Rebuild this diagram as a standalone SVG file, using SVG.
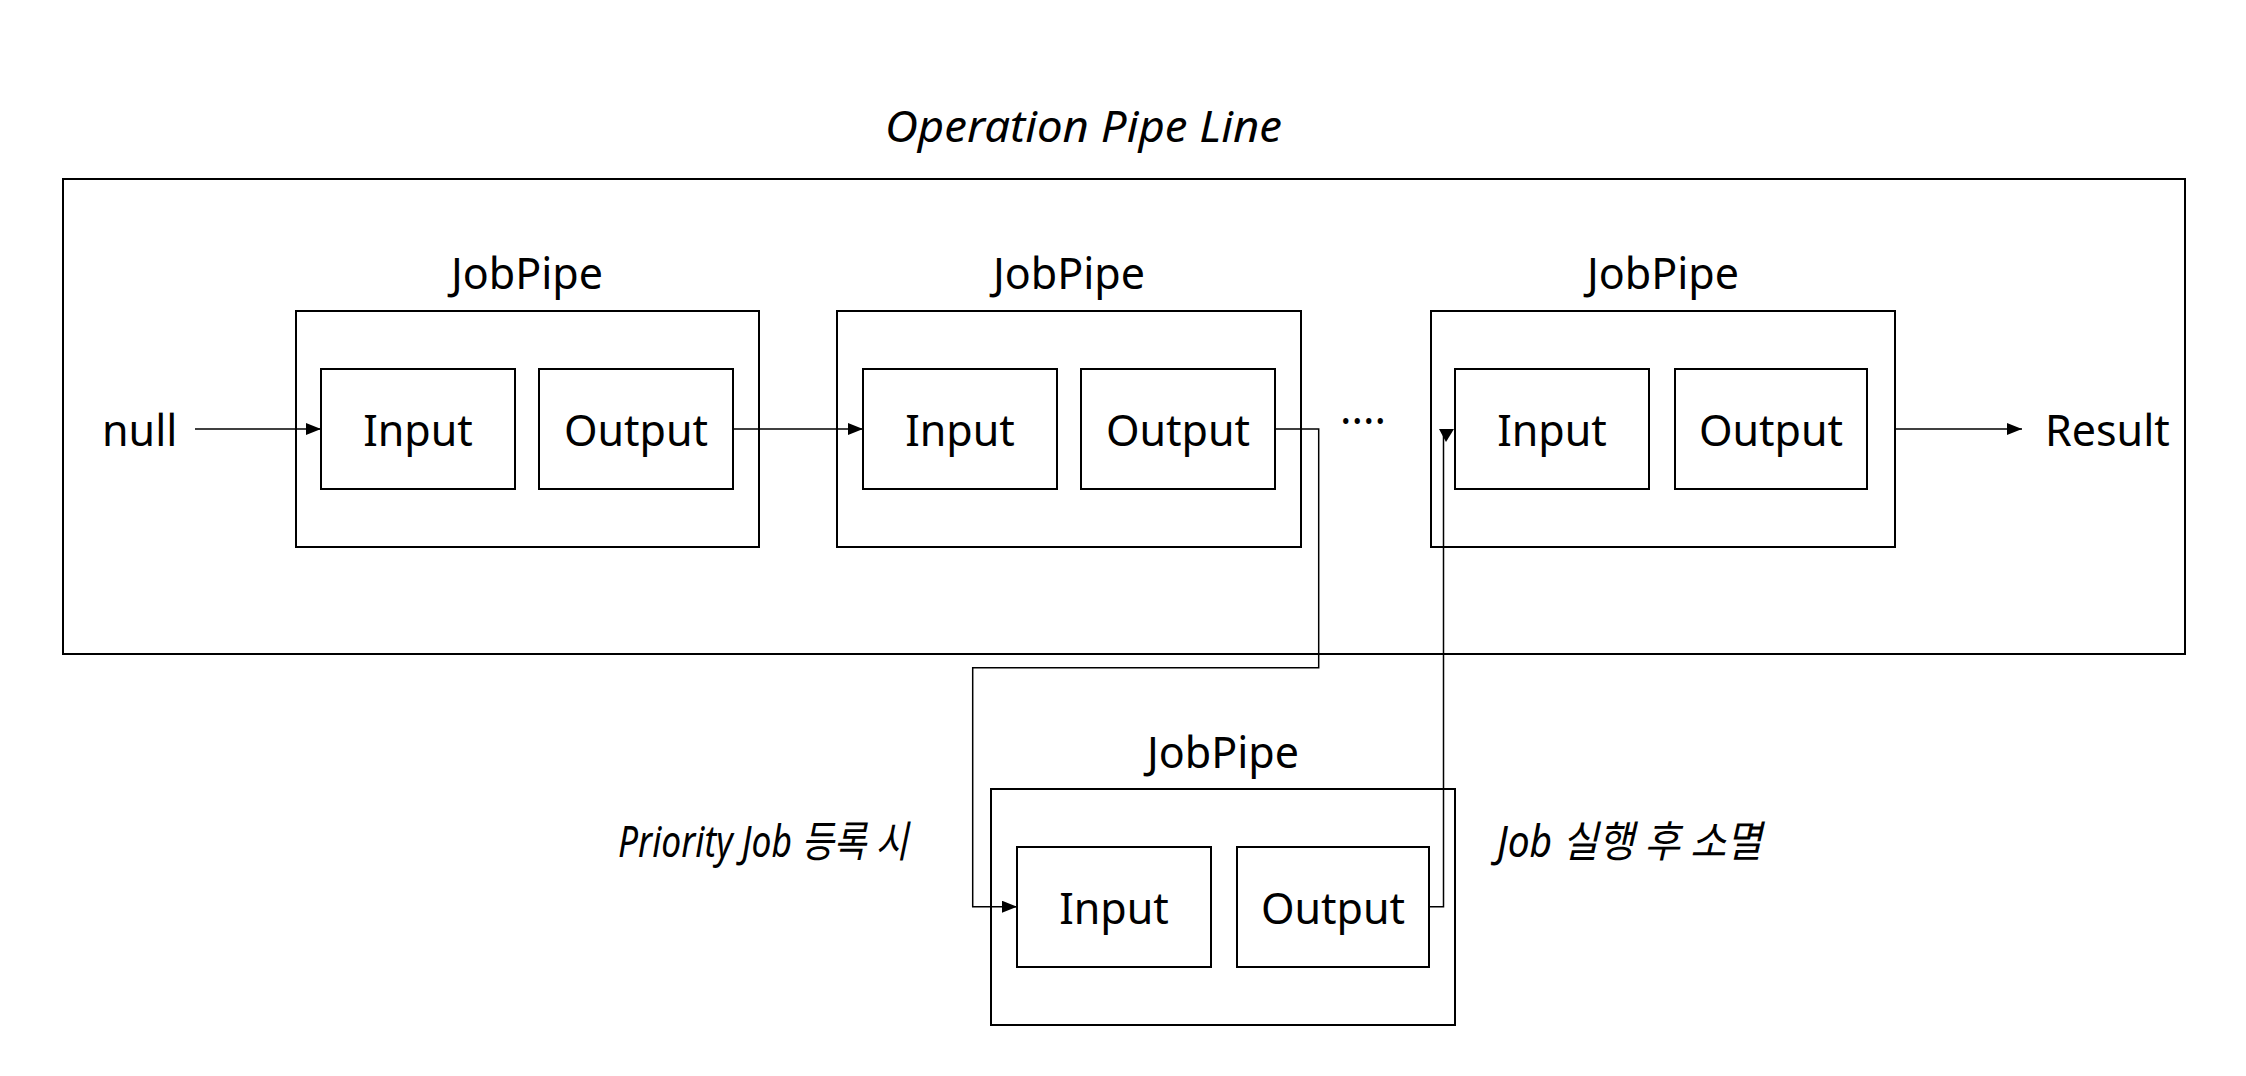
<svg xmlns="http://www.w3.org/2000/svg" width="2246" height="1076" viewBox="0 0 2246 1076">
<style>
.box{fill:none;stroke:#000;stroke-width:2}
.lbl{font-family:"Noto Sans","Noto Sans CJK KR",sans-serif;font-size:43px;fill:#000}
.c{text-anchor:middle}
.it{font-style:italic}
.con{fill:none;stroke:#000;stroke-width:1.5}
</style>
<defs>
<marker id="arr" markerUnits="userSpaceOnUse" markerWidth="15" markerHeight="12" refX="15" refY="6" orient="auto">
<path d="M0,0 L15,6 L0,12 z" fill="#000"/>
</marker>
</defs>
<rect width="2246" height="1076" fill="#fff"/>
<g id="title"><text class="lbl it" x="885" y="142" font-size="45" textLength="397" lengthAdjust="spacingAndGlyphs">Operation Pipe Line</text></g>
<g id="pipeline"><rect class="box" x="63" y="179" width="2122" height="475"/></g>
<g id="jobpipe1">
<text class="lbl c" x="527" y="289">JobPipe</text>
<rect class="box" x="296" y="311" width="463" height="236"/>
<rect class="box" x="321" y="369" width="194" height="120"/>
<text class="lbl c" x="418" y="446">Input</text>
<rect class="box" x="539" y="369" width="194" height="120"/>
<text class="lbl c" x="636" y="446">Output</text>
</g>
<g id="jobpipe2">
<text class="lbl c" x="1069" y="289">JobPipe</text>
<rect class="box" x="837" y="311" width="464" height="236"/>
<rect class="box" x="863" y="369" width="194" height="120"/>
<text class="lbl c" x="960" y="446">Input</text>
<rect class="box" x="1081" y="369" width="194" height="120"/>
<text class="lbl c" x="1178" y="446">Output</text>
</g>
<g id="jobpipe3">
<text class="lbl c" x="1663" y="289">JobPipe</text>
<rect class="box" x="1431" y="311" width="464" height="236"/>
<rect class="box" x="1455" y="369" width="194" height="120"/>
<text class="lbl c" x="1552" y="446">Input</text>
<rect class="box" x="1675" y="369" width="192" height="120"/>
<text class="lbl c" x="1771" y="446">Output</text>
</g>
<g id="jobpipe4">
<text class="lbl c" x="1223" y="768">JobPipe</text>
<rect class="box" x="991" y="789" width="464" height="236"/>
<rect class="box" x="1017" y="847" width="194" height="120"/>
<text class="lbl c" x="1114" y="924">Input</text>
<rect class="box" x="1237" y="847" width="192" height="120"/>
<text class="lbl c" x="1333" y="924">Output</text>
</g>
<g id="null"><text class="lbl" x="102" y="446">null</text></g>
<g id="result"><text class="lbl" x="2045" y="446">Result</text></g>
<g id="ellipsis"><text class="lbl c" x="1363" y="437">····</text></g>
<g id="label-priority"><text class="lbl it" x="618" y="857" font-size="33" textLength="290" lengthAdjust="spacingAndGlyphs">Priority Job 등록 시</text></g>
<g id="label-destroy"><text class="lbl it" x="1497" y="857" font-size="33" textLength="265" lengthAdjust="spacingAndGlyphs">Job 실행 후 소멸</text></g>
<g id="connectors">
<path class="con" d="M195,429 H321" marker-end="url(#arr)"/>
<path class="con" d="M733,429 H863" marker-end="url(#arr)"/>
<path class="con" d="M1275,429 H1318.7 V667.7 H972.7 V906.7 H1017" marker-end="url(#arr)"/>
<path class="con" d="M1429,906.7 H1443.5 V430"/>
<polygon points="1439,429 1454,429 1446,442" fill="#000"/>
<path class="con" d="M1896,429 H2022" marker-end="url(#arr)"/>
</g>
</svg>
